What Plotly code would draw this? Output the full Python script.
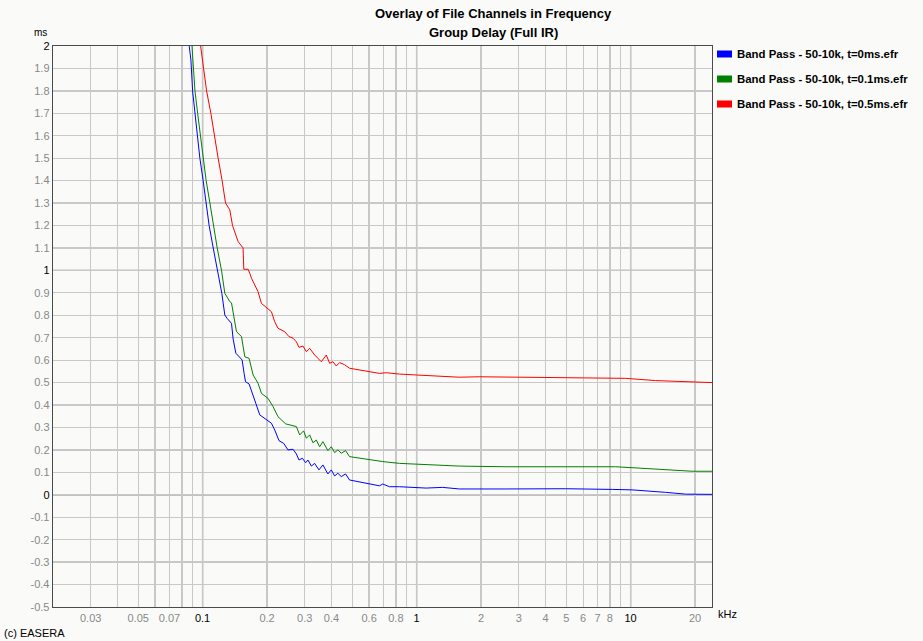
import plotly.graph_objects as go

# ---------------- data ----------------
series_names = [
    "Band Pass - 50-10k, t=0ms.efr",
    "Band Pass - 50-10k, t=0.1ms.efr",
    "Band Pass - 50-10k, t=0.5ms.efr",
]
series_colors = ["#0000FF", "#008000", "#FF0000"]

blue_f = [0.0866, 0.0882, 0.0898, 0.0921, 0.0948, 0.0971, 0.1006, 0.1036, 0.1073, 0.1121,
          0.1175, 0.1230, 0.1270, 0.1302, 0.1365, 0.1389, 0.1430, 0.1481, 0.1530, 0.1563,
          0.1587, 0.1649, 0.1711, 0.1772, 0.1850, 0.1987, 0.2097, 0.2173, 0.2276, 0.2394,
          0.2506, 0.2645, 0.2743, 0.2821, 0.2926, 0.3031, 0.3107, 0.3223, 0.3338, 0.3496,
          0.3649, 0.3850, 0.3994, 0.4138, 0.4287, 0.4446, 0.4657, 0.4861, 0.5817, 0.6708,
          0.6950, 0.7468, 0.8318, 0.9947, 1.1075, 1.3234, 1.583, 2.614, 4.977, 8.209,
          10.14, 14.56, 18.05, 24.0]
blue_ms = [2.0, 1.938, 1.8, 1.7, 1.6, 1.5, 1.4, 1.3, 1.2, 1.1,
           1.0, 0.898, 0.801, 0.786, 0.764, 0.694, 0.631, 0.613, 0.601, 0.541,
           0.504, 0.494, 0.445, 0.408, 0.356, 0.336, 0.319, 0.289, 0.241, 0.229,
           0.200, 0.203, 0.182, 0.155, 0.163, 0.143, 0.155, 0.128, 0.140, 0.111,
           0.133, 0.093, 0.111, 0.084, 0.096, 0.081, 0.093, 0.066, 0.051, 0.040,
           0.048, 0.036, 0.036, 0.033, 0.030, 0.033, 0.026, 0.026, 0.027, 0.024,
           0.022, 0.011, 0.003, 0.002]

green_f = [0.0892, 0.0921, 0.0948, 0.0979, 0.1006, 0.1039, 0.1082, 0.1121, 0.1170, 0.1226,
           0.1270, 0.1340, 0.1365, 0.1440, 0.1520, 0.1575, 0.1649, 0.1722, 0.1816, 0.1884,
           0.2021, 0.2134, 0.2251, 0.2446, 0.2600, 0.2743, 0.2842, 0.2967, 0.3054, 0.3164,
           0.3278, 0.3400, 0.3523, 0.3649, 0.3850, 0.3994, 0.4138, 0.4287, 0.4446, 0.4657,
           0.4861, 0.5817, 0.6950, 0.8318, 0.9947, 1.3234, 1.583, 2.614, 5.343, 8.513,
           10.93, 13.08, 19.38, 24.0]
green_ms = [2.0, 1.8, 1.7, 1.6, 1.5, 1.4, 1.3, 1.2, 1.1, 1.0,
            0.898, 0.861, 0.855, 0.727, 0.705, 0.615, 0.608, 0.534, 0.497, 0.452,
            0.430, 0.393, 0.348, 0.316, 0.311, 0.304, 0.267, 0.285, 0.252, 0.267,
            0.232, 0.244, 0.214, 0.237, 0.197, 0.214, 0.188, 0.200, 0.185, 0.197,
            0.170, 0.158, 0.148, 0.140, 0.137, 0.133, 0.128, 0.125, 0.127, 0.125,
            0.119, 0.114, 0.105, 0.105]

red_f = [0.0979, 0.1014, 0.1044, 0.1093, 0.1133, 0.1182, 0.1234, 0.1280, 0.1340, 0.1380,
         0.1466, 0.1520, 0.1546, 0.1558, 0.1632, 0.1662, 0.1692, 0.1753, 0.1816, 0.1884,
         0.2097, 0.2173, 0.2251, 0.2420, 0.2533, 0.2645, 0.2743, 0.2821, 0.2944, 0.3054,
         0.3164, 0.3338, 0.3496, 0.3587, 0.3785, 0.3922, 0.4063, 0.4214, 0.4366, 0.4605,
         0.4861, 0.5817, 0.6708, 0.7208, 0.8318, 0.9947, 1.189, 1.583, 1.962, 3.736,
         9.478, 13.08, 19.38, 24.0]
red_ms = [2.0, 1.9, 1.8, 1.7, 1.6, 1.5, 1.4, 1.3, 1.27, 1.2,
          1.128, 1.106, 1.1, 1.005, 1.005, 0.987, 0.965, 0.935, 0.905, 0.853,
          0.816, 0.771, 0.742, 0.727, 0.705, 0.698, 0.682, 0.657, 0.663, 0.638,
          0.653, 0.623, 0.604, 0.593, 0.623, 0.586, 0.593, 0.574, 0.589, 0.580,
          0.564, 0.553, 0.541, 0.544, 0.538, 0.534, 0.529, 0.524, 0.526, 0.524,
          0.519, 0.509, 0.503, 0.500]

x_tick_vals = [0.03, 0.05, 0.07, 0.1, 0.2, 0.3, 0.4, 0.6, 0.8, 1, 2, 3, 4, 5, 6, 7, 8, 10, 20]
x_tick_text = ["0.03", "0.05", "0.07", "0.1", "0.2", "0.3", "0.4", "0.6", "0.8", "1",
               "2", "3", "4", "5", "6", "7", "8", "10", "20"]
x_minor_vals = [0.04, 0.06, 0.08, 0.09, 0.5, 0.7, 0.9, 9]
x_major_vals = [0.1, 1, 10]
y_tick_vals = [2.0, 1.9, 1.8, 1.7, 1.6, 1.5, 1.4, 1.3, 1.2, 1.1, 1.0, 0.9, 0.8, 0.7, 0.6,
               0.5, 0.4, 0.3, 0.2, 0.1, 0.0, -0.1, -0.2, -0.3, -0.4, -0.5]
y_tick_text = ["2", "1.9", "1.8", "1.7", "1.6", "1.5", "1.4", "1.3", "1.2", "1.1", "1",
               "0.9", "0.8", "0.7", "0.6", "0.5", "0.4", "0.3", "0.2", "0.1", "0",
               "-0.1", "-0.2", "-0.3", "-0.4", "-0.5"]
y_major_vals = [1.0, 0.0]
x_dark_labels = {"0.1", "1", "10"}
y_dark_labels = {"2", "1", "0"}

title_lines = ["Overlay of File Channels in Frequency", "Group Delay (Full IR)"]
x_unit = "kHz"
y_unit = "ms"
credit = "(c) EASERA"

# ---------------- layout geometry ----------------
W, H = 923, 641
L, R, T, B = 53, 712, 46, 607
FONT = "Liberation Sans, Arial, sans-serif"
BG = "#FAFBF8"


def px(x):
    return (x - L) / (R - L)


def py(y):
    return (B - y) / (B - T)


def colored(t, dark_set):
    c = "#000000" if t in dark_set else "#888888"
    return f"<span style='color:{c}'>{t}</span>"


fig = go.Figure()
for name, col, fx, vy in zip(series_names, series_colors,
                             [blue_f, green_f, red_f], [blue_ms, green_ms, red_ms]):
    fig.add_trace(go.Scatter(x=fx, y=vy, mode="lines", name=name,
                             line=dict(color=col, width=1), showlegend=False))

shapes = []
for v in x_major_vals:
    shapes.append(dict(type="line", xref="x", yref="paper", x0=v, x1=v, y0=0, y1=1,
                       line=dict(color="#888888", width=1.3), layer="below"))
for v in y_major_vals:
    shapes.append(dict(type="line", xref="paper", yref="y", x0=0, x1=1, y0=v, y1=v,
                       line=dict(color="#888888", width=1.3), layer="below"))

annotations = []
for i, line in enumerate(title_lines):
    annotations.append(dict(text=line, xref="paper", yref="paper", x=px(493), y=py(14 + 19 * i),
                            xanchor="center", yanchor="middle", showarrow=False,
                            font=dict(family=FONT, size=13, color="#000000", weight="bold")))
leg_y = [54, 79, 104]
for name, col, yy in zip(series_names, series_colors, leg_y):
    shapes.append(dict(type="rect", xref="paper", yref="paper",
                       x0=px(717), x1=px(732), y0=py(yy + 3.5), y1=py(yy - 3.5),
                       fillcolor=col, line=dict(width=0)))
    annotations.append(dict(text=name, xref="paper", yref="paper", x=px(735), y=py(yy),
                            xanchor="left", yanchor="middle", showarrow=False,
                            font=dict(family=FONT, size=11.4, color="#000000", weight="bold")))
annotations.append(dict(text=y_unit, xref="paper", yref="paper", x=px(40), y=py(33),
                        xanchor="center", yanchor="middle", showarrow=False,
                        font=dict(family=FONT, size=10, color="#000000")))
annotations.append(dict(text=x_unit, xref="paper", yref="paper", x=px(716), y=py(614),
                        xanchor="left", yanchor="middle", showarrow=False,
                        font=dict(family=FONT, size=11, color="#000000")))
annotations.append(dict(text=credit, xref="paper", yref="paper", x=px(2), y=py(633),
                        xanchor="left", yanchor="middle", showarrow=False,
                        font=dict(family=FONT, size=11, color="#000000")))

fig.update_layout(
    width=W, height=H,
    margin=dict(l=L, r=W - R, t=T, b=H - B, pad=0),
    paper_bgcolor=BG, plot_bgcolor=BG,
    showlegend=False,
    font=dict(family=FONT, size=11, color="#888888"),
    shapes=shapes, annotations=annotations,
    xaxis=dict(type="log", range=[-1.69897, 1.380211], tickmode="array",
               tickvals=x_tick_vals, ticktext=[colored(t, x_dark_labels) for t in x_tick_text],
               showgrid=True, gridcolor="#C8C8C8", gridwidth=1.3,
               minor=dict(tickmode="array", tickvals=x_minor_vals, showgrid=True,
                          gridcolor="#C8C8C8", gridwidth=1.3, ticks=""),
               showline=True, mirror=True, linecolor="#4A4A4A", linewidth=1.3,
               ticks="", zeroline=False, tickfont=dict(size=11), fixedrange=True),
    yaxis=dict(range=[-0.5, 2.0], tickmode="array", tickvals=y_tick_vals,
               ticktext=[colored(t, y_dark_labels) for t in y_tick_text],
               showgrid=True, gridcolor="#C8C8C8", gridwidth=1.3,
               showline=True, mirror=True, linecolor="#4A4A4A", linewidth=1.3,
               ticks="", zeroline=False, tickfont=dict(size=11), fixedrange=True),
)

fig.write_html("out.html", config={"displayModeBar": False, "staticPlot": True})

# remove the default page margin so the figure sits at the window's top-left corner
with open("out.html", "r", encoding="utf-8") as fh:
    html = fh.read()
html = html.replace("<head>", "<head><style>html,body{margin:0;padding:0;overflow:hidden;}</style>", 1)
with open("out.html", "w", encoding="utf-8") as fh:
    fh.write(html)
